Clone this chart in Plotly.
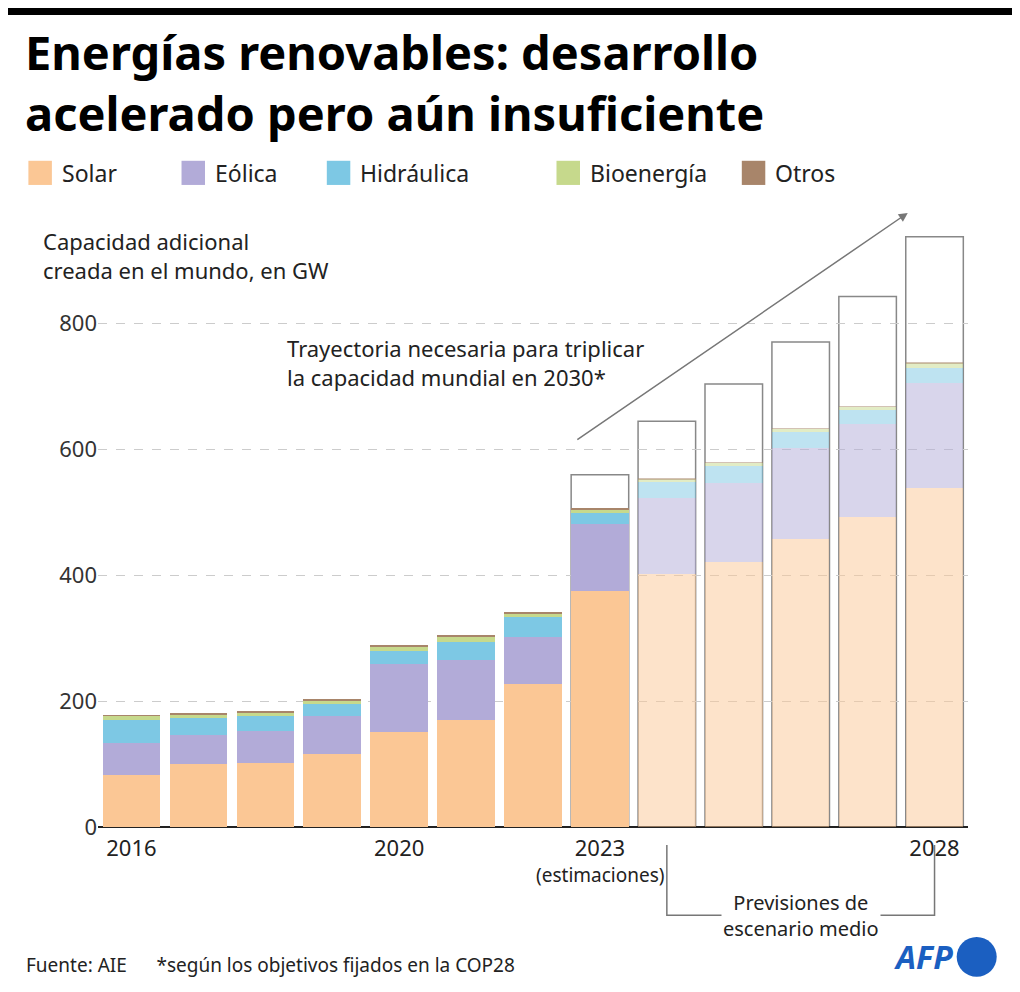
import plotly.graph_objects as go

# data (GW of additional capacity)
years = [2016, 2017, 2018, 2019, 2020, 2021, 2022, 2023, 2024, 2025, 2026, 2027, 2028]
solar = [83, 100, 102, 116, 151, 170, 227, 375, 402, 421, 458, 493, 539]
eolica = [51, 46, 51, 60, 108, 95, 75, 107, 121, 126, 145, 148, 167]
hidraulica = [36, 27, 23, 20, 21, 29, 32, 17, 25, 27, 25, 22, 24]
bioenergia = [7, 6, 6, 5, 7, 9, 6, 6, 5, 5, 5, 5, 7]
otros = [1, 1, 1, 2, 1, 1, 1, 1, 1, 1, 1, 1, 1]
trayectoria_years = [2023, 2024, 2025, 2026, 2027, 2028]
trayectoria = [560, 645, 704, 771, 843, 938]

series = [
    ("Solar", solar, "#fbc795"),
    ("Eólica", eolica, "#b2abd8"),
    ("Hidráulica", hidraulica, "#7dc8e4"),
    ("Bioenergía", bioenergia, "#c6d98c"),
    ("Otros", otros, "#a8856a"),
]
legend_x = [-0.080, 0.096, 0.263, 0.527, 0.740]

fig = go.Figure()
for name, vals, col in series:
    fig.add_trace(go.Bar(
        x=years, y=vals, name=name, width=0.86,
        marker=dict(color=col, opacity=[1 if y <= 2023 else 0.5 for y in years], line_width=0),
    ))

# trajectory boxes behind the stacks
for yr, v in zip(trayectoria_years, trayectoria):
    fig.add_shape(type="rect", x0=yr - 0.43, x1=yr + 0.43, y0=0, y1=v, layer="below",
                  line=dict(color="#888888", width=1.5), fillcolor="white")

# manual legend
for (name, vals, col), lx in zip(series, legend_x):
    fig.add_shape(type="rect", xref="paper", yref="paper", x0=lx, x1=lx + 0.027,
                  y0=1.063, y1=1.103, fillcolor=col, line_width=0)
    fig.add_annotation(text=name, xref="paper", yref="paper", x=lx + 0.036, y=1.083,
                       xanchor="left", yanchor="middle", showarrow=False, font=dict(size=23))

fig.update_layout(
    barmode="stack", width=1020, height=992,
    margin=dict(l=90, r=60, t=215, b=173),
    paper_bgcolor="white", plot_bgcolor="white",
    font=dict(family="Noto Sans, sans-serif", size=22, color="#222"),
    showlegend=False,
    bargap=0,
)
fig.update_xaxes(range=[2015.5, 2028.5], tickvals=[2016, 2020, 2023, 2028], ticks="",
                 showgrid=False, showline=False, tickfont=dict(size=22), ticklabelstandoff=6)
fig.update_yaxes(range=[0, 960], tickvals=[0, 200, 400, 600, 800], showgrid=True,
                 gridcolor="#cccccc", griddash="dash", zeroline=True, zerolinecolor="#222",
                 zerolinewidth=1.5, tickfont=dict(size=22, color="#333"))

fig.add_shape(type="line", xref="paper", yref="paper", x0=-0.12, x1=1.08, y0=1.35, y1=1.35,
              line=dict(color="black", width=7))
fig.add_annotation(text="<b>Energías renovables: desarrollo<br>acelerado pero aún insuficiente</b>",
                   xref="paper", yref="paper", x=-0.086, y=1.34, xanchor="left", yanchor="top",
                   showarrow=False, align="left", font=dict(size=47, color="black"))
fig.add_annotation(text="Capacidad adicional<br>creada en el mundo, en GW", xref="paper", yref="y",
                   x=-0.066, y=858, xanchor="left", yanchor="bottom", showarrow=False, align="left",
                   font=dict(size=22))
fig.add_annotation(text="Trayectoria necesaria para triplicar<br>la capacidad mundial en 2030*",
                   x=2018.3, y=688, xanchor="left", yanchor="bottom", showarrow=False, align="left",
                   font=dict(size=22))
fig.add_annotation(x=2027.6, y=976, ax=2022.64, ay=614, xref="x", yref="y", axref="x", ayref="y",
                   text="", showarrow=True, arrowhead=2, arrowsize=1.2, arrowwidth=1.5,
                   arrowcolor="#777")
fig.add_annotation(text="(estimaciones)", x=2023, y=-0.08, yref="paper", yanchor="middle",
                   showarrow=False, font=dict(size=19))
fig.add_shape(type="path", xref="x", yref="paper",
              path="M 2024,-0.03 L 2024,-0.146 L 2028,-0.146 L 2028,-0.03",
              line=dict(color="#777", width=1.5))
fig.add_annotation(text="Previsiones de<br>escenario medio", x=2026, y=-0.146, yref="paper",
                   yanchor="middle", showarrow=False, bgcolor="white", font=dict(size=20))
fig.add_annotation(text="Fuente: AIE&nbsp;&nbsp;&nbsp;&nbsp;&nbsp;&nbsp;*según los objetivos fijados en la COP28",
                   xref="paper", yref="paper", x=-0.085, y=-0.228, xanchor="left", yanchor="middle",
                   showarrow=False, font=dict(size=19))
fig.add_annotation(text="<b><i>AFP</i></b>", xref="paper", yref="paper", x=0.985, y=-0.215,
                   xanchor="right", yanchor="middle", showarrow=False,
                   font=dict(size=32, color="#1b5fc1"))
fig.add_shape(type="circle", xref="paper", yref="paper", x0=0.987, x1=1.033, y0=-0.248, y1=-0.182,
              fillcolor="#1b5fc1", line_width=0)

fig.write_html("out.html")
